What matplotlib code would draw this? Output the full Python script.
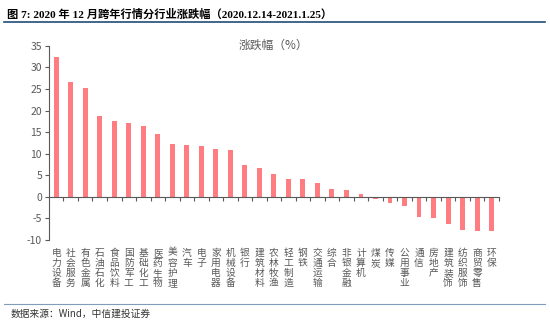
import matplotlib
matplotlib.use('Agg')
import matplotlib.pyplot as plt
import matplotlib.transforms as mtransforms
from matplotlib.lines import Line2D

plt.rcParams['font.family'] = ['Noto Sans CJK SC', 'DejaVu Sans']
plt.rcParams['axes.unicode_minus'] = False

# 行业涨跌幅（%）
industries = ['电力设备', '社会服务', '有色金属', '石油石化', '食品饮料', '国防军工',
              '基础化工', '医药生物', '美容护理', '汽车', '电子', '家用电器',
              '机械设备', '银行', '建筑材料', '农林牧渔', '轻工制造', '钢铁',
              '交通运输', '综合', '非银金融', '计算机', '煤炭', '传媒', '公用事业',
              '通信', '房地产', '建筑装饰', '纺织服饰', '商贸零售', '环保']
changes = [32.5, 26.7, 25.3, 18.8, 17.5, 17.2, 16.5, 14.5, 12.3, 12.1, 11.7, 11.1,
           10.8, 7.3, 6.6, 5.3, 4.1, 4.1, 3.1, 1.8, 1.6, 0.6, -0.6, -1.4, -2.1,
           -4.7, -4.9, -6.2, -7.6, -8.0, -8.0]
y_ticks = [-10, -5, 0, 5, 10, 15, 20, 25, 30, 35]

GRAY = '#595959'
BAR = '#FF7C80'

fig = plt.figure(figsize=(5.5, 3.25), dpi=100)
ax = fig.add_axes([0.089, 0.2615, 0.818, 0.5975])

x = list(range(len(industries)))
ax.bar(x, changes, width=0.34, color=BAR, zorder=2)

ax.set_xlim(-0.5, len(industries) - 0.5)
ax.set_ylim(y_ticks[0], y_ticks[-1])
ax.set_yticks(y_ticks)
ax.tick_params(axis='y', direction='out', length=3, width=0.8, color=GRAY,
               labelsize=7.5, labelcolor=GRAY, pad=2)

# 横轴放在 0 处，刻度线画在类别分界
ax.spines['bottom'].set_position(('data', 0))
ax.spines['bottom'].set_color(GRAY)
ax.spines['left'].set_color(GRAY)
ax.spines['top'].set_visible(False)
ax.spines['right'].set_visible(False)
ax.set_xticks(x)
ax.set_xticklabels([])
ax.tick_params(axis='x', which='major', length=0)
ax.set_xticks([i + 0.5 for i in x], minor=True)
ax.tick_params(axis='x', which='minor', direction='out', length=3, width=0.8, color=GRAY)

# 竖排类别标签
trans = mtransforms.blended_transform_factory(ax.transData, ax.transAxes)
for i, name in zip(x, industries):
    ax.text(i, -0.04, '\n'.join(name), transform=trans, ha='center', va='top',
            fontsize=7, color=GRAY, linespacing=1.0)

ax.text(0.5, 1.005, '涨跌幅（%）', transform=ax.transAxes, ha='center', va='center',
        fontsize=8.5, color=GRAY)

# 标题与底部来源
fig.text(0.012, 0.955, '图 7: 2020 年 12 月跨年行情分行业涨跌幅（2020.12.14-2021.1.25）',
         ha='left', va='center', fontsize=8.1, fontweight='bold',
         family=['Liberation Serif', 'Noto Sans CJK SC'])
fig.add_artist(Line2D([0.008, 0.99], [0.932, 0.932], color='#1F4E79', lw=1.2,
                      transform=fig.transFigure))
fig.add_artist(Line2D([0.008, 0.99], [0.064, 0.064], color='#7F9DB9', lw=0.8,
                      transform=fig.transFigure))
fig.text(0.02, 0.035, '数据来源：Wind，中信建投证券', ha='left', va='center',
         fontsize=7, style='italic', color='#333333')

fig.savefig('out.png', dpi=100)
